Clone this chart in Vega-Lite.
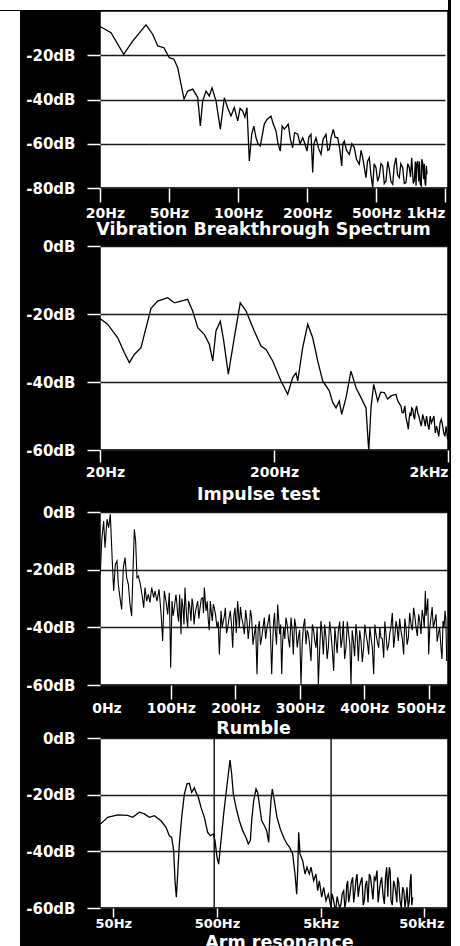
{
  "$schema": "https://vega.github.io/schema/vega-lite/v6.json",
  "background": "black",
  "padding": 0,
  "config": {
    "view": {"stroke": null},
    "concat": {"spacing": 0},
    "axis": {
      "domain": false,
      "tickColor": "white",
      "tickWidth": 1.5,
      "labelColor": "white",
      "labelFont": "DejaVu Sans",
      "labelFontWeight": "bold",
      "titleColor": "white",
      "titleFont": "DejaVu Sans",
      "titleFontWeight": "bold",
      "gridColor": "#1a1a1a",
      "gridWidth": 1.5,
      "gridOpacity": 1
    },
    "axisY": {"labelFontSize": 15, "tickSize": 13, "labelPadding": 12, "minExtent": 79, "maxExtent": 79, "grid": true},
    "axisX": {"labelFontSize": 14, "grid": false, "titleFontSize": 17.5, "titleBaseline": "middle"},
    "line": {"color": "black", "strokeWidth": 1.3, "clip": true}
  },
  "datasets": {
    "vib": [
      {"f":20,"db":-7},{"f":24.8,"db":-9.8},{"f":30.3,"db":-19.6},{"f":34.2,"db":-13.6},{"f":40,"db":-6.3},{"f":42.9,"db":-10.5},{"f":45.1,"db":-15.8},{"f":47.8,"db":-16.6},{"f":50.2,"db":-21.1},{"f":53.6,"db":-21.8},{"f":56.3,"db":-25.6},{"f":58.7,"db":-33},{"f":60.9,"db":-39.8},{"f":63.6,"db":-36.2},{"f":67.2,"db":-35.3},{"f":70.8,"db":-39},{"f":72.7,"db":-52},{"f":74.4,"db":-40.7},{"f":76.8,"db":-36.2},{"f":79.2,"db":-38.4},{"f":81.2,"db":-34.7},{"f":84.1,"db":-40.7},{"f":87.2,"db":-53.4},{"f":90.1,"db":-39.2},{"f":92.5,"db":-43.7},{"f":94.9,"db":-47.5},{"f":97.3,"db":-43.7},{"f":99.8,"db":-49.7},{"f":103,"db":-44},{"f":106.8,"db":-45.2},{"f":110,"db":-48},{"f":113,"db":-43.7},{"f":116.4,"db":-67.8},{"f":119.9,"db":-55.6},{"f":123,"db":-52},{"f":126.1,"db":-57.3},{"f":129,"db":-60},{"f":132.3,"db":-61},{"f":138.1,"db":-51.1},{"f":142,"db":-49},{"f":147.8,"db":-47.5},{"f":151,"db":-51},{"f":155.1,"db":-54.2},{"f":158,"db":-60},{"f":161.3,"db":-63.3},{"f":164,"db":-52},{"f":167.1,"db":-53.4},{"f":172.8,"db":-51.1},{"f":176,"db":-58},{"f":179.2,"db":-61.8},{"f":182,"db":-55},{"f":186.5,"db":-55.7},{"f":190,"db":-60},{"f":193.8,"db":-57.3},{"f":197,"db":-60},{"f":200,"db":-63.3},{"f":208,"db":-57},{"f":217.4,"db":-55.7},{"f":224.8,"db":-73},{"f":230,"db":-60},{"f":239.1,"db":-57.3},{"f":250,"db":-62},{"f":260.9,"db":-64.8},{"f":270,"db":-58},{"f":282.6,"db":-55.7},{"f":290,"db":-63},{"f":297,"db":-62.5},{"f":305,"db":-57},{"f":314.4,"db":-53.5},{"f":322,"db":-57},{"f":333.5,"db":-57.3},{"f":342,"db":-62},{"f":350.9,"db":-70},{"f":356,"db":-60},{"f":362.2,"db":-58.8},{"f":372,"db":-63},{"f":383.9,"db":-64.8},{"f":395,"db":-60},{"f":405.7,"db":-61.8},{"f":415,"db":-67},{"f":427.4,"db":-69.3},{"f":435,"db":-63},{"f":442.2,"db":-66.3},{"f":456.5,"db":-75.3},{"f":463,"db":-68},{"f":470.9,"db":-66.3},{"f":478,"db":-74},{"f":485.7,"db":-79.9},{"f":492,"db":-69},{"f":500,"db":-70.8},{"f":512,"db":-77},{"f":523.9,"db":-74.6},{"f":536,"db":-69},{"f":548.5,"db":-70},{"f":560,"db":-78},{"f":572.5,"db":-76.8},{"f":585,"db":-68},{"f":596.4,"db":-71.5},{"f":608,"db":-77},{"f":621,"db":-78.3},{"f":632,"db":-70},{"f":644.9,"db":-66.3},{"f":656,"db":-74},{"f":668.8,"db":-75.3},{"f":680,"db":-69},{"f":693.5,"db":-70.8},{"f":705,"db":-78},{"f":717.4,"db":-77.6},{"f":730,"db":-69},{"f":741.3,"db":-70.8},{"f":750,"db":-75},{"f":758.7,"db":-66.3},{"f":765,"db":-73},{"f":770,"db":-78},{"f":777.5,"db":-76.8},{"f":785,"db":-68},{"f":790,"db":-79},{"f":795,"db":-69},{"f":802.2,"db":-67.8},{"f":810,"db":-77},{"f":815,"db":-68},{"f":821,"db":-78.3},{"f":828,"db":-79},{"f":832,"db":-67},{"f":838.4,"db":-68.6},{"f":845,"db":-76},{"f":850,"db":-69},{"f":855,"db":-77.6},{"f":860,"db":-79},{"f":865,"db":-70},{"f":869.5,"db":-73.8}
    ],
    "imp": [
      {"f":20,"db":-21.3},{"f":22.1,"db":-23},{"f":25.3,"db":-27},{"f":27.6,"db":-31.4},{"f":29.5,"db":-34.3},{"f":31.5,"db":-31.9},{"f":34.4,"db":-29.9},{"f":36.8,"db":-24},{"f":39.3,"db":-18.3},{"f":42.9,"db":-16.2},{"f":49,"db":-15.2},{"f":53.5,"db":-16.7},{"f":58.4,"db":-16.2},{"f":63.8,"db":-15.7},{"f":68.2,"db":-19.1},{"f":72.9,"db":-24},{"f":79.5,"db":-26},{"f":85,"db":-28.9},{"f":88.9,"db":-33.8},{"f":92.8,"db":-25},{"f":98.3,"db":-22.1},{"f":102.8,"db":-27.9},{"f":109.3,"db":-37.7},{"f":118.2,"db":-27},{"f":128,"db":-16.7},{"f":138.1,"db":-19.1},{"f":154.1,"db":-25},{"f":168.4,"db":-29.4},{"f":179.9,"db":-30.4},{"f":196.6,"db":-33.8},{"f":219.4,"db":-39.7},{"f":239.7,"db":-43.6},{"f":256.2,"db":-38.7},{"f":267.6,"db":-37.3},{"f":273.8,"db":-39.7},{"f":292.4,"db":-29.9},{"f":312.4,"db":-23},{"f":333.8,"db":-27},{"f":356.6,"db":-33.8},{"f":381,"db":-39.7},{"f":415.8,"db":-42.6},{"f":435,"db":-46},{"f":454.4,"db":-47.6},{"f":474.6,"db":-45.6},{"f":489.8,"db":-49.5},{"f":518.6,"db":-44.6},{"f":554,"db":-36.8},{"f":592,"db":-41.7},{"f":632.5,"db":-44.6},{"f":675.8,"db":-47.6},{"f":700.6,"db":-60.3},{"f":722,"db":-47.6},{"f":748,"db":-40.7},{"f":789,"db":-45.6},{"f":820,"db":-43},{"f":861,"db":-43.1},{"f":900,"db":-45},{"f":940.6,"db":-44.1},{"f":1005,"db":-43.6},{"f":1020,"db":-45},{"f":1040,"db":-46},{"f":1074,"db":-47.1},{"f":1090,"db":-49},{"f":1110,"db":-49},{"f":1130,"db":-47},{"f":1147,"db":-50.5},{"f":1165,"db":-52},{"f":1183,"db":-53.9},{"f":1195,"db":-51},{"f":1210,"db":-49},{"f":1225,"db":-50},{"f":1237,"db":-47.6},{"f":1255,"db":-48},{"f":1270,"db":-50},{"f":1285,"db":-51},{"f":1300,"db":-48.5},{"f":1320,"db":-47},{"f":1339,"db":-49},{"f":1360,"db":-50},{"f":1380,"db":-51.5},{"f":1405,"db":-53},{"f":1431,"db":-49.5},{"f":1455,"db":-51},{"f":1480,"db":-53},{"f":1505,"db":-50},{"f":1529,"db":-52.4},{"f":1555,"db":-54},{"f":1580,"db":-50},{"f":1605,"db":-52},{"f":1634,"db":-51},{"f":1660,"db":-50},{"f":1690,"db":-55},{"f":1720,"db":-53},{"f":1745,"db":-54.4},{"f":1770,"db":-56},{"f":1800,"db":-52},{"f":1830,"db":-51},{"f":1865,"db":-52.9},{"f":1890,"db":-55},{"f":1920,"db":-56},{"f":1950,"db":-53},{"f":1990,"db":-56.9}
    ],
    "rum": [
      {"f":-9.5,"db":-21.6},{"f":-7.4,"db":-10},{"f":-4.3,"db":-3.1},{"f":-2.2,"db":-12.4},{"f":0.9,"db":-2.5},{"f":3.4,"db":-5.4},{"f":6,"db":-0.8},{"f":8.6,"db":-14.7},{"f":11.2,"db":-27.4},{"f":13.8,"db":-18.2},{"f":16.4,"db":-17},{"f":18.4,"db":-25.1},{"f":21,"db":-29.7},{"f":23.6,"db":-33.8},{"f":26.2,"db":-19.3},{"f":28.8,"db":-15.8},{"f":31.4,"db":-22.8},{"f":34,"db":-25.1},{"f":36.6,"db":-32},{"f":39.1,"db":-36.1},{"f":41.7,"db":-17},{"f":43.3,"db":-6},{"f":45.3,"db":-10.1},{"f":47.4,"db":-22.8},{"f":49.5,"db":-22.2},{"f":52.6,"db":-25.1},{"f":55.2,"db":-28.6},{"f":57.8,"db":-33.2},{"f":59.8,"db":-26.2},{"f":62.4,"db":-30.9},{"f":65,"db":-28.6},{"f":67.6,"db":-31.4},{"f":70.2,"db":-26.2},{"f":73.3,"db":-29.7},{"f":75.3,"db":-27.4},{"f":78.4,"db":-30.9},{"f":81.6,"db":-26.8},{"f":84.7,"db":-34.9},{"f":87.2,"db":-44.7},{"f":89.8,"db":-27.4},{"f":92.4,"db":-30.9},{"f":95,"db":-35.5},{"f":97.6,"db":-28},{"f":99.7,"db":-54},{"f":101.7,"db":-30.9},{"f":105.3,"db":-33.2},{"f":107.9,"db":-28.6},{"f":110.5,"db":-35.5},{"f":113.6,"db":-28.6},{"f":115.7,"db":-42.4},{"f":118.8,"db":-33.2},{"f":121.9,"db":-26.2},{"f":124.5,"db":-36.6},{"f":127.6,"db":-30.9},{"f":131.2,"db":-37.8},{"f":134.3,"db":-32},{"f":137.4,"db":-35.5},{"f":141.6,"db":-30.9},{"f":145.2,"db":-33.2},{"f":149.3,"db":-29.7},{"f":151.9,"db":-26.2},{"f":154.5,"db":-34.3},{"f":158.1,"db":-37.8},{"f":161.2,"db":-30.9},{"f":164.3,"db":-37.8},{"f":167.4,"db":-33.2},{"f":171.6,"db":-40.1},{"f":175.2,"db":-49.4},{"f":177.8,"db":-34.3},{"f":181.4,"db":-37.8},{"f":184.5,"db":-33.2},{"f":188.1,"db":-40.1},{"f":192.2,"db":-34.3},{"f":195.9,"db":-47.1},{"f":199.5,"db":-33.2},{"f":203.6,"db":-30.9},{"f":206.2,"db":-40.1},{"f":209.8,"db":-36.6},{"f":214,"db":-42.4},{"f":218.1,"db":-37.8},{"f":221.7,"db":-40.1},{"f":225.3,"db":-36.6},{"f":229.5,"db":-42.4},{"f":233.6,"db":-56.3},{"f":237.2,"db":-37.8},{"f":240.9,"db":-43.6},{"f":245,"db":-36.6},{"f":249.1,"db":-40.1},{"f":252.8,"db":-35.5},{"f":256.4,"db":-56.3},{"f":259.5,"db":-37.8},{"f":262.1,"db":-41.3},{"f":265.7,"db":-32.1},{"f":268.8,"db":-42.4},{"f":271.9,"db":-56.3},{"f":275,"db":-40.1},{"f":278.6,"db":-36.6},{"f":282.2,"db":-43.6},{"f":286.4,"db":-36.6},{"f":290,"db":-49.4},{"f":294.1,"db":-40.1},{"f":297.8,"db":-43.6},{"f":301.9,"db":-59.8},{"f":305.5,"db":-40.1},{"f":309.7,"db":-45.9},{"f":313.3,"db":-42.4},{"f":317.4,"db":-51.7},{"f":321.6,"db":-41.3},{"f":325.2,"db":-47.1},{"f":328.8,"db":-59.8},{"f":332.9,"db":-37.8},{"f":336.6,"db":-49.4},{"f":340.7,"db":-43.6},{"f":344.3,"db":-47.1},{"f":348.5,"db":-42.4},{"f":352.6,"db":-55.1},{"f":356.2,"db":-44.7},{"f":359.8,"db":-41.3},{"f":364,"db":-47.1},{"f":367.6,"db":-37.8},{"f":371.7,"db":-47.1},{"f":375.9,"db":-42.4},{"f":379.5,"db":-59.8},{"f":383.1,"db":-44.7},{"f":387.2,"db":-38.9},{"f":390.9,"db":-51.7},{"f":395,"db":-44.7},{"f":399.1,"db":-47.1},{"f":402.8,"db":-42.4},{"f":406.9,"db":-49.4},{"f":410.5,"db":-43.6},{"f":414.7,"db":-56.3},{"f":418.3,"db":-42.4},{"f":422.4,"db":-47.1},{"f":426,"db":-43.6},{"f":430.2,"db":-50.5},{"f":433.8,"db":-42.4},{"f":437.9,"db":-45.9},{"f":441.5,"db":-39.9},{"f":445.7,"db":-47.1},{"f":449.3,"db":-37.8},{"f":452.9,"db":-44.7},{"f":457.1,"db":-41.3},{"f":461.2,"db":-49.4},{"f":464.8,"db":-40.1},{"f":468.5,"db":-43.6},{"f":472.6,"db":-38.9},{"f":476.7,"db":-33.2},{"f":480.4,"db":-40.1},{"f":484.5,"db":-35.5},{"f":488.1,"db":-42.4},{"f":491.7,"db":-36.6},{"f":494.8,"db":-27.4},{"f":497.4,"db":-33.2},{"f":500,"db":-49.4},{"f":503.6,"db":-36.6},{"f":507.2,"db":-40.1},{"f":511.4,"db":-35.5},{"f":515,"db":-42.4},{"f":519.1,"db":-47.1},{"f":522.3,"db":-37.8},{"f":525.4,"db":-34.3},{"f":528,"db":-51.7},
      {"f":103.5,"db":-36},{"f":109,"db":-31},{"f":112,"db":-38},{"f":117,"db":-30},{"f":120.3,"db":-39},{"f":123,"db":-31},{"f":126,"db":-40},{"f":129.4,"db":-33},{"f":132.8,"db":-30},{"f":136,"db":-39},{"f":139.5,"db":-33},{"f":143.4,"db":-37},{"f":147.2,"db":-30},{"f":150.6,"db":-35},{"f":156.3,"db":-31},{"f":159.6,"db":-41},{"f":162.8,"db":-35},{"f":165.8,"db":-32},{"f":169.5,"db":-36},{"f":173.4,"db":-38},{"f":179.6,"db":-40},{"f":183,"db":-36},{"f":186.3,"db":-42},{"f":190.1,"db":-37},{"f":194,"db":-39},{"f":197.7,"db":-36},{"f":201.5,"db":-42},{"f":205,"db":-35},{"f":208,"db":-33},{"f":212,"db":-39},{"f":216,"db":-34},{"f":220,"db":-44},{"f":223.5,"db":-34},{"f":227.4,"db":-46},{"f":231.5,"db":-39},{"f":235.4,"db":-41},{"f":239,"db":-46},{"f":243,"db":-40},{"f":247,"db":-44},{"f":251,"db":-38},{"f":254.6,"db":-43},{"f":258,"db":-45},{"f":260.8,"db":-35},{"f":263.9,"db":-46},{"f":267.2,"db":-37},{"f":270.3,"db":-39},{"f":273.4,"db":-45},{"f":276.8,"db":-44},{"f":280.4,"db":-39},{"f":284.3,"db":-47},{"f":288.2,"db":-41},{"f":292,"db":-37},{"f":296,"db":-47},{"f":299.8,"db":-41},{"f":303.7,"db":-46},{"f":307.6,"db":-37},{"f":311.5,"db":-41},{"f":315.3,"db":-46},{"f":319.5,"db":-39},{"f":323.4,"db":-45},{"f":327,"db":-40},{"f":330.8,"db":-48},{"f":334.7,"db":-42},{"f":338.6,"db":-39},{"f":342.5,"db":-51},{"f":346.4,"db":-38},{"f":350.5,"db":-48},{"f":354.4,"db":-40},{"f":358,"db":-49},{"f":361.9,"db":-38},{"f":365.8,"db":-44},{"f":369.6,"db":-51},{"f":373.8,"db":-38},{"f":377.7,"db":-46},{"f":381.3,"db":-41},{"f":385.1,"db":-50},{"f":389,"db":-43},{"f":393,"db":-41},{"f":397,"db":-52},{"f":401,"db":-39},{"f":404.8,"db":-45},{"f":408.7,"db":-40},{"f":412.6,"db":-47},{"f":416.5,"db":-39},{"f":420.3,"db":-45},{"f":424.2,"db":-40},{"f":428.1,"db":-44},{"f":432,"db":-38},{"f":435.8,"db":-48},{"f":439.7,"db":-42},{"f":443.6,"db":-35},{"f":447.5,"db":-43},{"f":451.1,"db":-40},{"f":455,"db":-37},{"f":459.1,"db":-44},{"f":463,"db":-37},{"f":466.6,"db":-46},{"f":470.5,"db":-35},{"f":474.6,"db":-41},{"f":478.5,"db":-36},{"f":482.4,"db":-43},{"f":486.3,"db":-38},{"f":489.9,"db":-34},{"f":493.2,"db":-40},{"f":496,"db":-36},{"f":498.7,"db":-30},{"f":501.8,"db":-40},{"f":505.4,"db":-33},{"f":509.3,"db":-38},{"f":513.2,"db":-45},{"f":517,"db":-40},{"f":520.7,"db":-51},{"f":524,"db":-40},{"f":526.7,"db":-37}
    ],
    "arm": [
      {"f":37.5,"db":-30.4},{"f":44.1,"db":-28},{"f":55.1,"db":-27.1},{"f":68.8,"db":-27.3},{"f":76.9,"db":-28},{"f":89.1,"db":-26.2},{"f":99.6,"db":-26.8},{"f":111.3,"db":-28},{"f":124.3,"db":-27.4},{"f":144.2,"db":-29.2},{"f":161.2,"db":-31.5},{"f":173.5,"db":-34.5},{"f":182.7,"db":-35.1},{"f":191,"db":-39.8},{"f":196.8,"db":-50.4},{"f":202.7,"db":-56.2},{"f":208.8,"db":-48},{"f":216.6,"db":-37.4},{"f":228.2,"db":-28},{"f":242.1,"db":-19.8},{"f":256.8,"db":-16.2},{"f":270.5,"db":-16},{"f":284.9,"db":-19.2},{"f":302.2,"db":-17.6},{"f":313.6,"db":-19.2},{"f":330.3,"db":-20.9},{"f":350.5,"db":-24.5},{"f":377.4,"db":-28},{"f":406.4,"db":-33.3},{"f":431.2,"db":-34.5},{"f":460.8,"db":-33.9},{"f":478.2,"db":-36.2},{"f":500,"db":-42.1},{"f":518.8,"db":-44.5},{"f":546.5,"db":-36.2},{"f":579.9,"db":-26.8},{"f":615.2,"db":-18.6},{"f":643.1,"db":-12.7},{"f":667.3,"db":-7.8},{"f":692.5,"db":-12.7},{"f":718.7,"db":-19.8},{"f":762.5,"db":-24.5},{"f":821,"db":-29.2},{"f":884.4,"db":-32.7},{"f":952,"db":-35.1},{"f":1002.5,"db":-37.4},{"f":1048,"db":-36.2},{"f":1080,"db":-29.2},{"f":1129,"db":-22.1},{"f":1189,"db":-18},{"f":1234,"db":-19.2},{"f":1280,"db":-23.3},{"f":1348,"db":-29.2},{"f":1430,"db":-30.9},{"f":1506,"db":-32.7},{"f":1575,"db":-36.8},{"f":1610,"db":-29.2},{"f":1658,"db":-22.1},{"f":1708,"db":-18},{"f":1785,"db":-22.1},{"f":1894,"db":-28},{"f":2040,"db":-32.1},{"f":2197,"db":-35.1},{"f":2366,"db":-37.4},{"f":2509,"db":-38.6},{"f":2683,"db":-40.9},{"f":2826,"db":-48},{"f":2933,"db":-55.1},{"f":2999,"db":-46.8},{"f":3066,"db":-33.3},{"f":3158,"db":-40.9},{"f":3351,"db":-43.3},{"f":3529,"db":-48},{"f":3688,"db":-45.6},{"f":3884,"db":-48},{"f":4031,"db":-45.6},{"f":4276,"db":-50.4},{"f":4503,"db":-48},{"f":4674,"db":-53.9},{"f":4851,"db":-50.4},{"f":5109,"db":-56.2},{"f":5341,"db":-52.7},{"f":5625,"db":-57.4},{"f":5925,"db":-55.1},{"f":6285,"db":-59.8},{"f":6668,"db":-57.4},{"f":7024,"db":-59.8},{"f":7396,"db":-58},{"f":7848,"db":-58.6},{"f":8325,"db":-53.9},{"f":8768,"db":-57.4},{"f":9099,"db":-50.4},{"f":9583,"db":-55.1},{"f":10166,"db":-49.2},{"f":10708,"db":-53.9},{"f":11194,"db":-48},{"f":11790,"db":-52.7},{"f":12510,"db":-49.2},{"f":13176,"db":-57.4},{"f":13877,"db":-50.4},{"f":14724,"db":-48},{"f":15506,"db":-52.7},{"f":16451,"db":-49.2},{"f":17455,"db":-46.8},{"f":18383,"db":-53.9},{"f":19361,"db":-49.2},{"f":20540,"db":-58.6},{"f":21630,"db":-45.6},{"f":22450,"db":-50.4},{"f":22950,"db":-45.6},{"f":23820,"db":-57.4},{"f":25270,"db":-50.4},{"f":26610,"db":-55.1},{"f":27620,"db":-49.2},{"f":29090,"db":-57.4},{"f":30860,"db":-52.7},{"f":32500,"db":-59.8},{"f":33980,"db":-52.7},{"f":35790,"db":-57.4},{"f":37140,"db":-48},{"f":38540,"db":-56.2},
      {"f":6450,"db":-55},{"f":6850,"db":-60},{"f":7200,"db":-56},{"f":7600,"db":-60},{"f":8050,"db":-55},{"f":8550,"db":-60},{"f":8900,"db":-52},{"f":9300,"db":-58},{"f":9850,"db":-51},{"f":10400,"db":-58},{"f":10950,"db":-50},{"f":11500,"db":-56},{"f":12100,"db":-51},{"f":12850,"db":-59},{"f":13500,"db":-52},{"f":14300,"db":-58},{"f":15100,"db":-49},{"f":15950,"db":-57},{"f":16900,"db":-50},{"f":17900,"db":-58},{"f":18850,"db":-51},{"f":19900,"db":-55},{"f":21100,"db":-49},{"f":22200,"db":-56},{"f":23400,"db":-47},{"f":24500,"db":-59},{"f":25900,"db":-52},{"f":27100,"db":-58},{"f":28300,"db":-51},{"f":29900,"db":-60},{"f":31700,"db":-54},{"f":33200,"db":-57},{"f":34900,"db":-60},{"f":36400,"db":-51},{"f":37800,"db":-59}
    ],
    "armgrid": [{"f":470},{"f":6300}]
  },
  "spacing": 0,
  "vconcat": [
    {"width": 448, "height": 10, "data": {"values": []}, "mark": "point", "view": {"fill": "white", "stroke": null}},
    {
      "spacing": 0,
      "hconcat": [
        {"width": 20, "height": 936, "data": {"values": []}, "mark": "point", "view": {"fill": "white", "stroke": null}},
        {
          "spacing": 0,
          "bounds": "flush",
          "vconcat": [
            {
              "width": 348, "height": 177,
              "view": {"fill": "white", "stroke": "black", "strokeWidth": 1.5},
              "data": {"name": "vib"},
              "mark": {"type": "line"},
              "encoding": {
                "x": {"field": "f", "type": "quantitative",
                  "scale": {"type": "linear", "domain": [20, 50, 100, 200, 500, 1000], "range": [0, 69, 138, 207, 276, 345], "nice": false, "zero": false},
                  "axis": {"values": [20, 50, 100, 200, 500, 1000], "labelExpr": "datum.value >= 1000 ? (datum.value / 1000) + 'kHz' : datum.value + 'Hz'",
                    "tickSize": 14, "labelPadding": 4,
                    "labelAlign": {"condition": {"test": "datum.value >= 1000", "value": "right"}, "value": "center"},
                    "labelOffset": {"condition": {"test": "datum.value <= 20", "value": 5}, "value": 0},
                    "title": "Vibration Breakthrough Spectrum", "titleX": 163, "titleY": 41.5}},
                "y": {"field": "db", "type": "quantitative",
                  "scale": {"domain": [-80, 0], "nice": false, "zero": false},
                  "axis": {"values": [-20, -40, -60, -80], "labelExpr": "datum.value + 'dB'", "title": null}}
              }
            },
            {"width": 348, "height": 58, "data": {"values": []}, "mark": "point"},
            {
              "width": 348, "height": 204,
              "view": {"fill": "white", "stroke": "black", "strokeWidth": 1.5},
              "data": {"name": "imp"},
              "mark": {"type": "line"},
              "encoding": {
                "x": {"field": "f", "type": "quantitative",
                  "scale": {"type": "log", "domain": [20, 2000], "nice": false},
                  "axis": {"values": [20, 200, 2000], "labelExpr": "datum.value >= 1000 ? (datum.value / 1000) + 'kHz' : datum.value + 'Hz'",
                    "tickSize": 12, "labelPadding": 3,
                    "labelAlign": {"condition": {"test": "datum.value >= 2000", "value": "right"}, "value": "center"},
                    "labelOffset": {"condition": {"test": "datum.value <= 20", "value": 5}, "value": 0},
                    "title": "Impulse test", "titleX": 158, "titleY": 44}},
                "y": {"field": "db", "type": "quantitative",
                  "scale": {"domain": [-60, 0], "nice": false, "zero": false},
                  "axis": {"values": [0, -20, -40, -60], "labelExpr": "datum.value + 'dB'", "title": null}}
              }
            },
            {"width": 348, "height": 62, "data": {"values": []}, "mark": "point"},
            {
              "width": 348, "height": 173,
              "view": {"fill": "white", "stroke": "black", "strokeWidth": 1.5},
              "data": {"name": "rum"},
              "mark": {"type": "line", "strokeWidth": 1.1},
              "encoding": {
                "x": {"field": "f", "type": "quantitative",
                  "scale": {"type": "linear", "domain": [-10, 530], "nice": false, "zero": false},
                  "axis": {"values": [0, 100, 200, 300, 400, 500], "labelExpr": "datum.value + 'Hz'",
                    "tickSize": 14, "labelPadding": 2,
                    "tickOpacity": {"condition": {"test": "datum.value == 0", "value": 0}, "value": 1},
                    "labelOffset": {"condition": {"test": "datum.value >= 500", "value": -8}, "value": 0},
                    "title": "Rumble", "titleX": 153, "titleY": 43}},
                "y": {"field": "db", "type": "quantitative",
                  "scale": {"domain": [-60, 0], "nice": false, "zero": false},
                  "axis": {"values": [0, -20, -40, -60], "labelExpr": "datum.value + 'dB'", "title": null}}
              }
            },
            {"width": 348, "height": 53, "data": {"values": []}, "mark": "point"},
            {
              "width": 348, "height": 170,
              "view": {"fill": "white", "stroke": "black", "strokeWidth": 1.5},
              "layer": [
                {
                  "data": {"name": "armgrid"},
                  "mark": {"type": "rule", "color": "#1a1a1a", "strokeWidth": 1.5},
                  "encoding": {"x": {"field": "f", "type": "quantitative"}}
                },
                {
                  "data": {"name": "arm"},
                  "mark": {"type": "line"},
                  "encoding": {
                    "x": {"field": "f", "type": "quantitative"},
                    "y": {"field": "db", "type": "quantitative",
                      "scale": {"domain": [-60, 0], "nice": false, "zero": false},
                      "axis": {"values": [0, -20, -40, -60], "labelExpr": "datum.value + 'dB'", "title": null}}
                  }
                }
              ],
              "encoding": {
                "x": {"field": "f", "type": "quantitative",
                  "scale": {"type": "log", "domain": [37.2, 84450], "nice": false},
                  "axis": {"values": [50, 500, 5000, 50000], "labelExpr": "datum.value >= 1000 ? (datum.value / 1000) + 'kHz' : datum.value + 'Hz'",
                    "tickSize": 9, "labelPadding": 0, "labelFontSize": 13,
                    "labelOffset": {"condition": {"test": "datum.value >= 50000", "value": -3}, "value": 0},
                    "title": "Arm resonance", "titleX": 179, "titleY": 34}}
              }
            },
            {"width": 348, "height": 39, "data": {"values": []}, "mark": "point"}
          ]
        }
      ]
    }
  ]
}
